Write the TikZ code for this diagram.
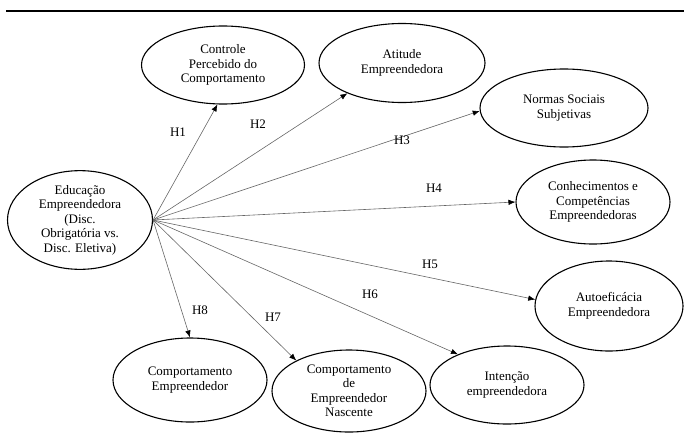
\documentclass[tikz,border=0pt]{standalone}
\usepackage{fontspec}
\setmainfont{Liberation Serif}
\usetikzlibrary{shapes.geometric}
\usetikzlibrary{arrows.meta}

\begin{document}
\begin{tikzpicture}[x=1pt,y=-1pt,
  var/.style={draw=black, line width=1.1pt, ellipse, inner sep=0pt, align=center,
    font=\fontsize{13}{14.5}\selectfont},
  hyp/.style={draw=black!60, line width=0.6pt, -{Latex[black,length=7pt,width=5.5pt]}},
  lab/.style={font=\fontsize{13}{14.5}\selectfont}]
\useasboundingbox (0,0) rectangle (684,439);

\draw[line width=1.8pt] (6,11) -- (684,11); % top rule

% variables
\node[var, minimum width=145pt, minimum height=98pt] (edu) at (80,220)
  {Educação\\Empreendedora\\(Disc.\\Obrigatória vs.\\Disc. Eletiva)};
\node[var, minimum width=163pt, minimum height=78pt] (ctrl) at (223,65)
  {Controle\\Percebido do\\Comportamento};
\node[var, minimum width=166pt, minimum height=79pt] (atit) at (402,63)
  {Atitude\\Empreendedora};
\node[var, minimum width=168pt, minimum height=78pt] (norm) at (564,108)
  {Normas Sociais\\Subjetivas};
\node[var, minimum width=154pt, minimum height=84pt] (conh) at (593,202)
  {Conhecimentos e\\Competências\\Empreendedoras};
\node[var, minimum width=148pt, minimum height=90pt] (auto) at (609,306)
  {Autoeficácia\\Empreendedora};
\node[var, minimum width=154pt, minimum height=78pt] (inte) at (507,385)
  {Intenção\\empreendedora};
\node[var, minimum width=154pt, minimum height=82pt] (nasc) at (349,391)
  {Comportamento\\de\\Empreendedor\\Nascente};
\node[var, minimum width=154pt, minimum height=84pt] (comp) at (190,380)
  {Comportamento\\Empreendedor};

% hypotheses
\draw[hyp] (edu.east) -- (ctrl.262);
\draw[hyp] (edu.east) -- (atit.209);
\draw[hyp] (edu.east) -- (norm.182);
\draw[hyp] (edu.east) -- (conh.west);
\draw[hyp] (edu.east) -- (auto.175);
\draw[hyp] (edu.east) -- (inte.148);
\draw[hyp] (edu.east) -- (nasc.150);
\draw[hyp] (edu.east) -- (comp.north);

\node[lab] (h1) at (178,132) {H1};
\node[lab] (h2) at (258,124) {H2};
\node[lab] (h3) at (402,140) {H3};
\node[lab] (h4) at (434,188) {H4};
\node[lab] (h5) at (430,264) {H5};
\node[lab] (h6) at (370,294) {H6};
\node[lab] (h7) at (273,317) {H7};
\node[lab] (h8) at (200,310) {H8};
\end{tikzpicture}
\end{document}
